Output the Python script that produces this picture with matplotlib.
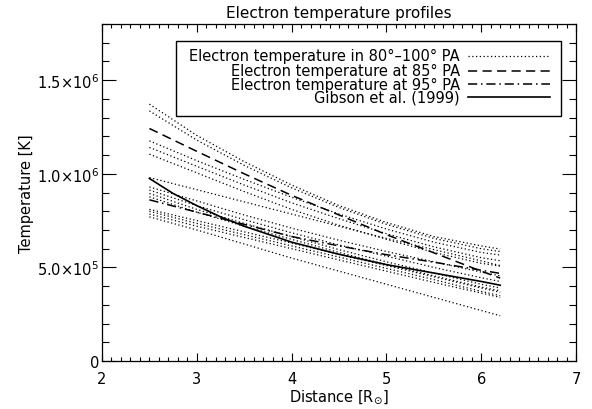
import matplotlib
matplotlib.use("Agg")
import matplotlib.pyplot as plt
from matplotlib.lines import Line2D
from matplotlib.patches import Rectangle
from matplotlib.ticker import MultipleLocator, FixedLocator, FixedFormatter

# distance grid [R_sun]
dist = [2.5, 3.0, 3.5, 4.0, 4.5, 5.0, 5.5, 6.0, 6.2]
dist_gibson = [2.5, 2.75, 3.0, 3.25, 3.5, 4.0, 4.5, 5.0, 5.5, 6.0, 6.2]

# electron temperature in the 80-100 deg PA range [1e6 K]
pa_profiles = [
    [1.372, 1.205, 1.065, 0.94, 0.83, 0.74, 0.665, 0.615, 0.598],
    [1.336, 1.18, 1.045, 0.925, 0.82, 0.73, 0.655, 0.60, 0.585],
    [1.176, 1.07, 0.97, 0.875, 0.785, 0.705, 0.635, 0.58, 0.566],
    [1.141, 1.04, 0.94, 0.845, 0.76, 0.68, 0.61, 0.552, 0.536],
    [1.105, 1.005, 0.905, 0.81, 0.725, 0.65, 0.58, 0.522, 0.507],
    [0.98, 0.915, 0.85, 0.785, 0.72, 0.655, 0.595, 0.535, 0.51],
    [0.93, 0.855, 0.78, 0.71, 0.645, 0.585, 0.53, 0.475, 0.455],
    [0.913, 0.83, 0.755, 0.685, 0.62, 0.56, 0.50, 0.445, 0.425],
    [0.895, 0.81, 0.735, 0.665, 0.595, 0.53, 0.47, 0.41, 0.39],
    [0.877, 0.795, 0.72, 0.65, 0.58, 0.515, 0.455, 0.395, 0.375],
    [0.81, 0.75, 0.69, 0.63, 0.57, 0.51, 0.45, 0.39, 0.367],
    [0.80, 0.735, 0.675, 0.615, 0.555, 0.495, 0.435, 0.372, 0.349],
    [0.785, 0.72, 0.66, 0.60, 0.54, 0.48, 0.42, 0.363, 0.34],
    [0.77, 0.70, 0.625, 0.55, 0.48, 0.41, 0.34, 0.27, 0.242],
]

# 85 deg PA, 95 deg PA [1e6 K]
te_85 = [1.242, 1.12, 1.0, 0.885, 0.78, 0.675, 0.578, 0.48, 0.443]
te_95 = [0.861, 0.795, 0.73, 0.665, 0.615, 0.568, 0.528, 0.485, 0.468]
# Gibson et al. (1999) [1e6 K]
te_gibson = [0.975, 0.895, 0.83, 0.77, 0.72, 0.635, 0.57, 0.515, 0.47, 0.425, 0.405]

labels = ['Electron temperature in 80\u00b0\u2013100\u00b0 PA',
          'Electron temperature at 85\u00b0 PA',
          'Electron temperature at 95\u00b0 PA',
          'Gibson et al. (1999)']

dotted = (0, (1, 2))
dashed = (0, (6, 3.5))
dashdot = (0, (6, 2.5, 1, 2.5))

fig = plt.figure(figsize=(5.92, 4.10), dpi=100)
ax = fig.add_axes([0.1723, 0.117, 0.8007, 0.822])

for prof in pa_profiles:
    ax.plot(dist, [v * 1e6 for v in prof], color='k', lw=0.9, linestyle=dotted)
ax.plot(dist, [v * 1e6 for v in te_85], color='k', lw=1.1, linestyle=dashed)
ax.plot(dist, [v * 1e6 for v in te_95], color='k', lw=1.1, linestyle=dashdot)
ax.plot(dist_gibson, [v * 1e6 for v in te_gibson], color='k', lw=1.2, linestyle='-')

ax.set_xlim(2, 7)
ax.set_ylim(0, 1.8e6)
ax.xaxis.set_major_locator(MultipleLocator(1))
ax.xaxis.set_minor_locator(MultipleLocator(0.1))
yt = [0, 0.5e6, 1.0e6, 1.5e6]
ax.yaxis.set_major_locator(FixedLocator(yt))
ax.yaxis.set_major_formatter(FixedFormatter(
    ['0', r'5.0$\times$10$^5$', r'1.0$\times$10$^6$', r'1.5$\times$10$^6$']))
ax.yaxis.set_minor_locator(MultipleLocator(1e5))

ax.tick_params(axis='both', which='both', direction='in', top=True, right=True,
               labelsize=10.5, width=0.8)
ax.tick_params(axis='y', which='major', length=10, pad=2)
ax.tick_params(axis='y', which='minor', length=5)
ax.tick_params(axis='x', which='major', length=6, pad=7)
ax.tick_params(axis='x', which='minor', length=3)
for s in ax.spines.values():
    s.set_linewidth(0.9)

ax.set_xlabel(r'Distance [R$_{\odot}$]', fontsize=10.5, labelpad=1)
ax.set_ylabel('Temperature [K]', fontsize=10.5, labelpad=2)
ax.set_title('Electron temperature profiles', fontsize=11, pad=5)

# legend box drawn by hand: right-aligned text, line sample on the right
ax.add_patch(Rectangle((0.156, 0.727), 0.812, 0.223, transform=ax.transAxes,
                       facecolor='white', edgecolor='k', lw=1.0, zorder=5))
row_y = [0.906, 0.862, 0.822, 0.782]
styles = [(dotted, 0.9), (dashed, 1.1), (dashdot, 1.1), ('-', 1.2)]
for lab, yy, (ls, lw) in zip(labels, row_y, styles):
    ax.text(0.755, yy, lab, transform=ax.transAxes, ha='right', va='center',
            fontsize=10.5, zorder=6)
    ax.add_line(Line2D([0.772, 0.945], [yy, yy], transform=ax.transAxes,
                       color='k', lw=lw, linestyle=ls, zorder=6))

fig.savefig('out.png', dpi=100)
